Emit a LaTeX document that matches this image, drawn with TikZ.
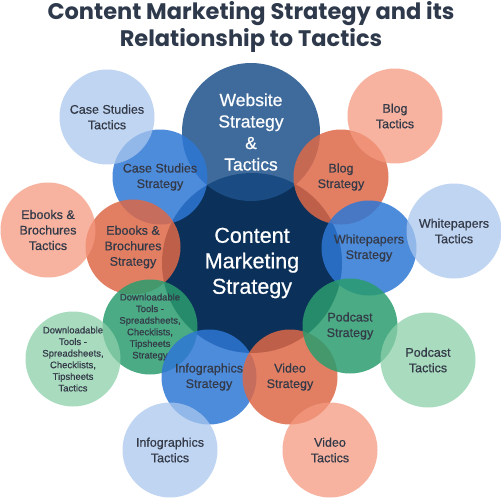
\documentclass[tikz,border=0pt]{standalone}
\usepackage{fontspec}
\setmainfont{Liberation Sans}[FakeBold=0.6]
\newfontfamily\titlefont{Poppins}
\usepackage{xcolor}

\definecolor{navy}{RGB}{11,48,89}
\definecolor{webblue}{RGB}{29,81,139}
\definecolor{stratblue}{RGB}{46,119,213}
\definecolor{stratsalmon}{RGB}{221,104,71}
\definecolor{stratgreen}{RGB}{42,156,110}
\definecolor{tacblue}{RGB}{170,199,238}
\definecolor{tacsalmon}{RGB}{244,154,128}
\definecolor{tacgreen}{RGB}{140,208,170}
\definecolor{labeltext}{RGB}{52,58,72}
\definecolor{titletext}{RGB}{46,58,76}

\tikzset{%
	every bubble/.style={
		circle,
		inner sep=0pt,
		minimum size=95pt,
		align=center,
		text=labeltext,
		text opacity=1,
		font=\fontsize{12.5}{15.5}\selectfont
	},
	strategy/.style={every bubble, fill opacity=0.85},
	tactic/.style={every bubble, fill opacity=0.75},
	small label/.style={font=\fontsize{9.5}{11.6}\selectfont},
}

\begin{document}
\begin{tikzpicture}[x=1pt, y=-1pt]
			\useasboundingbox (0,0) rectangle (501,498);
			
			% Draw the title
			\node[align=center, text=titletext, font=\titlefont\bfseries\fontsize{22.5}{27}\selectfont] (title) at (251,27) {Content Marketing Strategy and its\\Relationship to Tactics};
			
			% Draw the centre circle
			\node[circle, fill=navy, minimum size=180pt, inner sep=0pt, align=center, text=white, font=\fontsize{21.5}{25.5}\selectfont] (content) at (252,263) {Content\\Marketing\\Strategy};
			
			% Draw the website circle
			\node[circle, fill=webblue, fill opacity=0.85, text opacity=1, minimum size=138pt, inner sep=0pt, align=center, text=white, font=\fontsize{17.5}{21.5}\selectfont] (website) at (251,132) {Website\\Strategy\\\&\\Tactics};
			
			% Draw the strategy circles
			\node[strategy, fill=stratblue] (casestrat) at (160,177) {Case Studies\\Strategy};
			\node[strategy, fill=stratsalmon] (blogstrat) at (341,177) {Blog\\Strategy};
			\node[strategy, fill=stratsalmon] (ebookstrat) at (133,247) {Ebooks \&\\Brochures\\Strategy};
			\node[strategy, fill=stratblue] (whitestrat) at (369,248) {Whitepapers\\Strategy};
			\node[strategy, fill=stratgreen, small label] (toolstrat) at (150,327) {Downloadable\\Tools -\\Spreadsheets,\\Checklists,\\Tipsheets\\Strategy};
			\node[strategy, fill=stratblue] (infostrat) at (209,377) {Infographics\\Strategy};
			\node[strategy, fill=stratsalmon] (videostrat) at (290,377) {Video\\Strategy};
			\node[strategy, fill=stratgreen] (podstrat) at (350,326) {Podcast\\Strategy};
			
			% Draw the tactics circles
			\node[tactic, fill=tacblue] (casetac) at (107,117) {Case Studies\\Tactics};
			\node[tactic, fill=tacsalmon] (blogtac) at (395,116) {Blog\\Tactics};
			\node[tactic, fill=tacsalmon] (ebooktac) at (48,230) {Ebooks \&\\Brochures\\Tactics};
			\node[tactic, fill=tacblue] (whitetac) at (454,231) {Whitepapers\\Tactics};
			\node[tactic, fill=tacgreen, small label] (tooltac) at (73,359) {Downloadable\\Tools -\\Spreadsheets,\\Checklists,\\Tipsheets\\Tactics};
			\node[tactic, fill=tacblue] (infotac) at (170,450) {Infographics\\Tactics};
			\node[tactic, fill=tacsalmon] (videotac) at (330,450) {Video\\Tactics};
			\node[tactic, fill=tacgreen] (podtac) at (428,360) {Podcast\\Tactics};
			
		\end{tikzpicture}
\end{document}
